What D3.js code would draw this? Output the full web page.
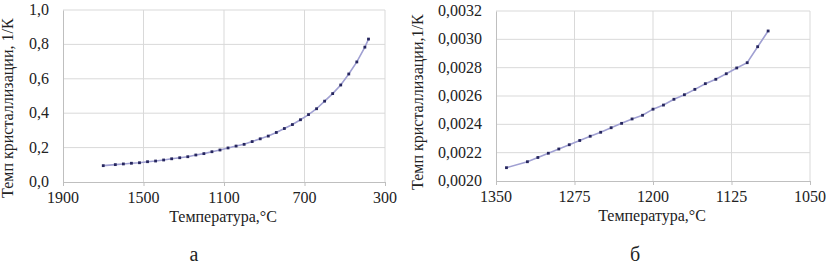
<!DOCTYPE html>
<html>
<head>
<meta charset="utf-8">
<script src="https://cdn.jsdelivr.net/npm/d3@7/dist/d3.min.js"></script>
</head>
<body style="margin:0; background:#fff">
<script>
// panel a: whole range
var tempA = [1700, 1640, 1600, 1560, 1520, 1480, 1440, 1400, 1360, 1320, 1280, 1240, 1200,
  1160, 1120, 1080, 1040, 1000, 960, 920, 880, 840, 800, 760, 720, 680, 640, 600, 560,
  520, 480, 440, 400, 382];
var rateA = [0.095, 0.101, 0.105, 0.109, 0.112, 0.118, 0.122, 0.128, 0.135, 0.141, 0.147,
  0.157, 0.165, 0.176, 0.186, 0.198, 0.209, 0.219, 0.235, 0.251, 0.267, 0.288, 0.311,
  0.334, 0.362, 0.392, 0.426, 0.470, 0.514, 0.564, 0.628, 0.698, 0.784, 0.831];
var xTicksA = [1900, 1500, 1100, 700, 300];
var yTicksA = [0, 0.2, 0.4, 0.6, 0.8, 1.0];

// panel b: crystallisation interval
var tempB = [1340, 1320, 1310, 1300, 1290, 1280, 1270, 1260, 1250, 1240, 1230, 1220, 1210,
  1200, 1190, 1180, 1170, 1160, 1150, 1140, 1130, 1120, 1110, 1100, 1090];
var rateB = [0.002094, 0.002136, 0.002166, 0.002196, 0.002226, 0.002256, 0.002286, 0.002316,
  0.002344, 0.002376, 0.002407, 0.002438, 0.002464, 0.002507, 0.002536, 0.002577, 0.002609,
  0.002647, 0.002687, 0.002718, 0.002757, 0.002798, 0.002835, 0.002948, 0.003059];
var xTicksB = [1350, 1275, 1200, 1125, 1050];
var yTicksB = [0.0020, 0.0022, 0.0024, 0.0026, 0.0028, 0.0030, 0.0032];

var W = 826, H = 266;
var svg = d3.select('body').append('svg')
  .attr('width', W)
  .attr('height', H)
  .style('font-family', "'Liberation Serif'");

function comma(digits) {
  return function(v) { return v.toFixed(digits).replace('.', ','); };
}

function label(g, x, y, str, size) {
  return g.append('text')
    .attr('x', x).attr('y', y)
    .attr('font-size', size)
    .style('font-family', "'Liberation Serif'")
    .attr('fill', '#222')
    .text(str);
}

function panel(o) {
  var x = d3.scaleLinear().domain(o.xDomain).range([o.left, o.right]);
  var y = d3.scaleLinear().domain(o.yDomain).range([o.bottom, o.top]);
  var g = svg.append('g');

  // grid
  g.selectAll('.hg').data(o.yTicks.slice(1)).enter().append('line')
    .attr('x1', o.left).attr('x2', o.right)
    .attr('y1', function(d) { return y(d); }).attr('y2', function(d) { return y(d); })
    .attr('stroke', '#d9d9d9').attr('stroke-width', 1);
  g.selectAll('.vg').data(o.xTicks.slice(1)).enter().append('line')
    .attr('y1', o.top).attr('y2', o.bottom)
    .attr('x1', function(d) { return x(d); }).attr('x2', function(d) { return x(d); })
    .attr('stroke', '#d9d9d9').attr('stroke-width', 1);

  // axes: lines and ticks only, labels drawn as plain texts below
  var xAxis = d3.axisBottom(x).tickValues(o.xTicks).tickSize(4).tickFormat('');
  g.append('g').attr('transform', 'translate(0,' + o.bottom + ')').call(xAxis)
    .call(function(a) { a.select('.domain').attr('stroke', '#bfbfbf'); a.selectAll('.tick line').attr('stroke', '#bfbfbf'); });
  var yAxis = d3.axisLeft(y).tickValues(o.yTicks).tickSize(0).tickFormat('');
  g.append('g').attr('transform', 'translate(' + o.left + ',0)').call(yAxis)
    .call(function(a) { a.select('.domain').attr('stroke', '#bfbfbf'); });

  o.xTicks.forEach(function(t) {
    label(g, x(t), o.bottom + 21, d3.format('d')(t), 16).attr('text-anchor', 'middle');
  });
  o.yTicks.forEach(function(t) {
    label(g, o.left - 14, y(t) + 5, comma(o.digits)(t), 16).attr('text-anchor', 'end');
  });

  // series
  var line = d3.line()
    .x(function(d, i) { return x(o.temp[i]); })
    .y(function(d) { return y(d); });
  g.append('path').datum(o.rate)
    .attr('d', line)
    .attr('fill', 'none')
    .attr('stroke', '#a0a0d2')
    .attr('stroke-width', 1.6);
  g.selectAll('.pt').data(o.rate).enter().append('rect')
    .attr('x', function(d, i) { return x(o.temp[i]) - 1.4; })
    .attr('y', function(d) { return y(d) - 1.4; })
    .attr('width', 2.8).attr('height', 2.8)
    .attr('fill', '#26265e');

  // titles
  label(g, o.xTitleX, o.xTitleY, 'Температура,°C', 16).attr('text-anchor', 'middle');
  label(g, 0, 0, o.yTitle, 16)
    .attr('transform', 'translate(' + o.yTitleX + ',' + o.yTitleY + ') rotate(-90)');
  label(g, o.capX, 261, o.cap, 20).attr('text-anchor', 'middle');
}

panel({
  temp: tempA, rate: rateA, xTicks: xTicksA, yTicks: yTicksA,
  xDomain: [1900, 300], yDomain: [0, 1],
  left: 63, right: 385, top: 10, bottom: 182, digits: 1,
  xTitleX: 223, xTitleY: 222, yTitleX: 13, yTitleY: 198,
  yTitle: 'Темп кристаллизации, 1/К', capX: 194, cap: 'а'
});

panel({
  temp: tempB, rate: rateB, xTicks: xTicksB, yTicks: yTicksB,
  xDomain: [1350, 1050], yDomain: [0.0020, 0.0032],
  left: 496, right: 810, top: 11, bottom: 181, digits: 4,
  xTitleX: 652, xTitleY: 221, yTitleX: 423, yTitleY: 190,
  yTitle: 'Темп кристаллизации,1/К', capX: 635, cap: 'б'
});
</script>
</body>
</html>
